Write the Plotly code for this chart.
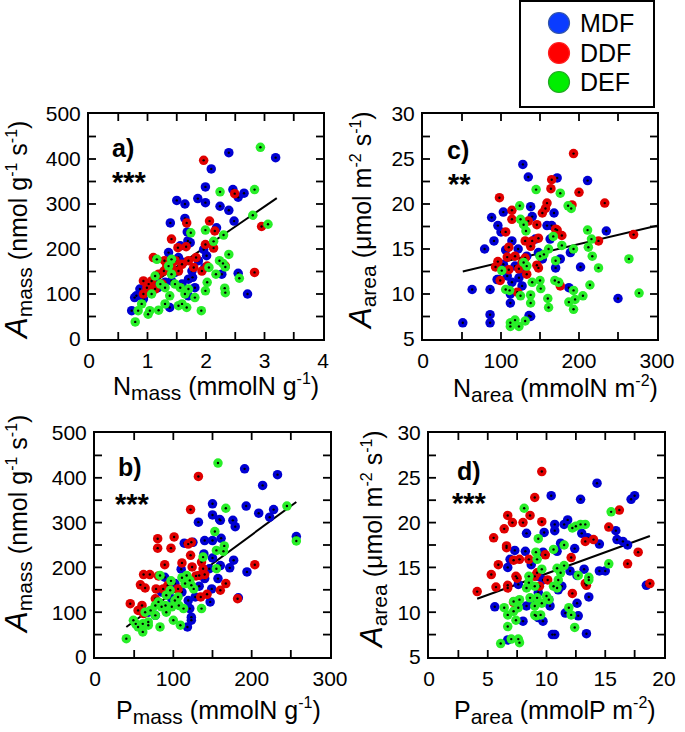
import plotly.graph_objects as go

# ---------------- data ----------------
# Panel a: Nmass (mmolN g-1) vs Amass (nmol g-1 s-1)
a_mdf_x = [2.39, 3.19, 2.09, 1.99, 2.46, 2.65, 2.55, 1.86, 1.50, 1.64, 1.99, 2.24, 2.39, 1.39, 2.48, 1.64, 1.68, 1.69, 1.36, 1.96,
           2.01, 1.53, 2.27, 2.55, 1.77, 1.70, 1.59, 1.41, 1.30, 1.18, 1.07, 0.99, 0.87, 0.81, 0.78, 0.73, 2.71, 1.38, 1.70, 1.81,
           1.47, 1.87, 1.13, 0.93, 1.61, 1.98, 1.76, 1.56, 1.73, 2.18]
a_mdf_y = [414, 403, 378, 338, 332, 324, 315, 312, 308, 300, 303, 295, 286, 258, 262, 268, 238, 218, 192, 199,
           185, 181, 144, 146, 137, 133, 122, 129, 126, 114, 122, 114, 111, 96, 92, 63, 100, 70, 96, 114,
           148, 174, 129, 89, 170, 159, 151, 207, 214, 247]
a_ddf_x = [1.96, 2.49, 2.95, 2.83, 1.67, 2.06, 2.15, 2.13, 1.41, 1.52, 1.66, 1.10, 1.29, 1.59, 1.83, 1.79, 2.02, 1.41, 1.19, 1.02,
           0.93, 0.99, 1.28, 1.53, 1.70, 2.33, 1.13, 0.93, 1.47, 1.93, 1.33, 1.07, 1.25, 1.99]
a_ddf_y = [397, 323, 250, 148, 258, 262, 240, 202, 222, 203, 205, 181, 174, 166, 181, 159, 162, 159, 144, 122,
           100, 114, 151, 151, 174, 162, 111, 129, 174, 151, 162, 129, 122, 210]
a_def_x = [2.93, 2.24, 2.83, 2.80, 3.06, 1.99, 2.30, 2.13, 1.74, 2.39, 2.23, 2.29, 2.33, 2.05, 2.17, 2.02, 1.99, 2.57, 2.32, 2.33,
           1.16, 1.41, 1.36, 1.22, 1.07, 1.30, 1.38, 1.47, 1.70, 1.81, 1.64, 0.90, 0.84, 1.04, 1.01, 1.19, 1.30, 1.53, 1.67, 1.59,
           1.92, 0.79, 1.41, 1.56, 1.13]
a_def_y = [426, 327, 332, 275, 255, 242, 231, 217, 236, 188, 174, 168, 160, 159, 144, 126, 107, 135, 113, 103,
           177, 177, 162, 122, 100, 114, 96, 122, 111, 92, 100, 78, 63, 63, 55, 64, 78, 74, 70, 78,
           63, 38, 144, 114, 140]
a_fit_x = [0.75, 3.21]
a_fit_y = [94, 313]

# Panel c: Narea (mmolN m-2) vs Aarea (umol m-2 s-1)
c_mdf_x = [51, 63, 86, 86, 86, 79, 91, 88, 96, 103, 100, 103, 97, 108, 112, 112, 114, 122, 128, 135,
           138, 140, 148, 133, 136, 138, 168, 159, 163, 172, 176, 170, 189, 187, 202, 211, 235, 250, 127, 123,
           114, 144, 118, 153, 106, 95, 127, 165]
c_mdf_y = [6.8, 10.5, 7.7, 6.8, 10.5, 15.0, 15.9, 18.5, 17.6, 19.1, 16.9, 13.3, 11.6, 12.0, 9.0, 10.0, 15.9, 15.0, 24.4, 23.0,
           19.7, 18.6, 14.6, 14.2, 7.6, 7.5, 19.0, 17.6, 16.1, 22.9, 13.9, 12.9, 14.6, 10.7, 13.0, 22.6, 17.0, 9.5, 12.7, 11.8,
           11.3, 16.1, 13.1, 13.9, 14.9, 11.6, 10.9, 17.6]
c_ddf_x = [193, 98, 165, 164, 200, 191, 233, 270, 225, 159, 157, 153, 114, 114, 106, 135, 146, 172, 178, 148,
           140, 131, 110, 96, 108, 118, 127, 93, 110, 123, 146, 148, 99, 133, 176, 121, 131, 170, 138]
c_ddf_y = [25.6, 20.7, 22.7, 21.7, 21.3, 19.9, 20.1, 16.6, 15.9, 20.1, 19.5, 19.0, 19.3, 18.3, 16.9, 18.1, 17.7, 17.1, 16.5, 16.2,
           15.9, 15.9, 15.2, 13.6, 14.1, 14.2, 13.5, 13.0, 12.7, 12.8, 13.2, 12.9, 11.5, 12.2, 10.9, 10.2, 14.0, 17.2, 15.3]
c_def_x = [145, 176, 186, 190, 124, 125, 129, 132, 211, 216, 212, 217, 193, 178, 264, 277, 225, 214, 167, 161,
           150, 155, 170, 101, 129, 133, 140, 150, 151, 169, 174, 193, 195, 205, 187, 193, 160, 161, 138, 138,
           125, 106, 111, 112, 118, 123, 131, 112]
c_def_y = [21.6, 21.2, 19.8, 19.5, 19.8, 18.3, 17.7, 17.0, 17.1, 16.1, 15.2, 14.2, 15.0, 15.4, 13.9, 10.1, 12.9, 11.0, 16.4, 15.0,
           14.2, 14.4, 13.7, 12.6, 13.5, 13.1, 11.3, 11.5, 10.6, 11.5, 11.3, 10.4, 9.4, 9.8, 9.1, 8.3, 9.5, 8.5, 9.9, 9.0,
           9.8, 10.5, 10.4, 6.8, 7.1, 6.4, 7.0, 6.4]
c_fit_x = [51, 300]
c_fit_y = [12.5, 17.6]

# Panel b: Pmass vs Amass
b_mdf_x = [191, 233, 214, 150, 193, 209, 228, 223, 150, 159, 160, 132, 176, 179, 161, 150, 140, 114, 125, 257,
           139, 150, 177, 172, 194, 146, 160, 110, 102, 89, 140, 157, 149, 133, 147, 128, 121, 123, 118, 123,
           119, 183, 111, 85, 77, 68, 98]
b_mdf_y = [420, 407, 383, 342, 337, 321, 329, 312, 317, 307, 305, 301, 305, 291, 265, 260, 260, 254, 256, 269,
           230, 221, 216, 199, 190, 197, 204, 196, 164, 178, 175, 175, 152, 158, 123, 134, 108, 89, 67, 82,
           126, 132, 145, 145, 93, 100, 130]
b_ddf_x = [132, 122, 101, 80, 80, 97, 119, 123, 122, 111, 89, 124, 136, 62, 70, 81, 58, 64, 78, 87,
           93, 129, 140, 133, 167, 160, 143, 135, 204, 182, 45, 55, 62, 60, 77, 115, 106, 138]
b_ddf_y = [403, 329, 268, 264, 243, 243, 252, 256, 227, 210, 206, 201, 212, 184, 184, 181, 161, 154, 152, 152,
           160, 181, 184, 182, 164, 149, 140, 134, 206, 130, 119, 104, 97, 115, 130, 171, 152, 197]
b_def_x = [157, 167, 245, 257, 153, 155, 165, 164, 138, 155, 136, 83, 97, 96, 111, 117, 121, 123, 126, 115,
           91, 106, 102, 90, 85, 98, 107, 113, 77, 71, 64, 77, 68, 61, 52, 49, 55, 61, 68, 83,
           100, 109, 40, 91, 81]
b_def_y = [433, 332, 337, 259, 280, 238, 248, 236, 223, 197, 108, 182, 170, 149, 177, 182, 171, 160, 152, 164,
           138, 134, 126, 115, 112, 112, 115, 108, 115, 104, 100, 93, 78, 74, 74, 82, 67, 56, 71, 67,
           82, 71, 41, 100, 123]
b_fit_x = [40, 257]
b_fit_y = [67, 346]

# Panel d: Parea (mmolP m-2) vs Aarea
d_mdf_x = [14.3, 17.2, 17.5, 12.9, 10.4, 8.3, 9.8, 10.7, 10.7, 11.5, 11.8, 13.0, 13.5, 15.9, 16.0, 16.5, 16.9, 14.5, 12.4, 11.2,
           10.9, 9.7, 7.3, 8.2, 6.7, 6.9, 14.5, 15.0, 13.2, 12.6, 12.0, 11.3, 9.7, 9.3, 8.7, 8.3, 8.0, 9.3, 9.7, 10.3,
           10.2, 12.6, 13.6, 11.6, 12.7, 5.6, 6.7, 10.5, 10.7, 13.4, 18.5, 7.6, 11.0, 8.7, 9.3]
d_mdf_y = [24.4, 22.6, 23.0, 22.6, 23.0, 18.8, 18.9, 19.8, 19.1, 19.8, 20.3, 18.8, 18.3, 19.1, 18.1, 17.9, 17.5, 17.6, 17.1, 17.7,
           16.8, 16.7, 16.9, 16.8, 15.0, 15.9, 14.6, 14.6, 14.8, 14.1, 14.6, 12.9, 13.6, 12.2, 11.4, 10.7, 9.0, 9.4, 9.0, 10.7,
           11.4, 11.0, 11.7, 9.9, 9.6, 10.6, 6.9, 7.5, 7.5, 7.6, 13.0, 13.1, 12.5, 15.3, 14.0]
d_ddf_x = [9.6, 9.0, 6.7, 7.1, 6.4, 8.0, 8.6, 9.6, 5.5, 16.2, 15.3, 13.3, 14.0, 17.8, 16.9, 18.8, 6.6, 6.6, 9.9, 7.2,
           7.7, 8.5, 5.9, 5.3, 7.4, 7.5, 6.7, 6.7, 5.7, 4.1, 12.1, 13.3, 13.4, 12.2, 9.4, 9.0, 10.1, 7.2, 9.2]
d_ddf_y = [25.7, 22.8, 20.8, 20.0, 19.3, 20.0, 20.8, 20.1, 18.3, 21.4, 19.5, 17.9, 18.1, 16.7, 15.4, 13.2, 17.2, 17.4, 16.4, 15.8,
           15.9, 15.9, 15.3, 14.2, 14.0, 13.8, 13.0, 12.7, 12.8, 12.3, 16.1, 13.2, 13.0, 12.1, 12.9, 14.0, 13.6, 11.1, 14.4]
d_def_x = [8.1, 15.5, 12.5, 12.9, 13.3, 12.2, 9.3, 15.3, 10.6, 11.5, 9.1, 9.2, 9.6, 10.9, 11.5, 12.7, 13.6, 13.6, 11.2, 11.0,
           10.9, 10.6, 8.5, 8.5, 8.3, 9.0, 9.2, 9.6, 8.6, 10.2, 7.7, 7.6, 7.2, 6.4, 6.7, 7.4, 6.7, 9.0, 9.0, 9.5,
           9.1, 11.9, 12.1, 12.4, 6.1, 7.0, 7.6, 7.7, 7.2, 10.0]
d_def_y = [21.6, 21.2, 19.6, 19.8, 19.8, 19.4, 18.2, 15.4, 17.0, 17.5, 16.7, 15.9, 14.8, 14.9, 15.2, 14.1, 13.9, 13.6, 14.4, 13.6,
           12.7, 12.9, 14.0, 13.3, 12.7, 12.9, 11.6, 11.0, 11.6, 11.4, 11.4, 10.5, 10.1, 10.5, 9.7, 9.1, 8.4, 10.7, 9.7, 9.7,
           9.6, 10.5, 9.7, 8.3, 6.5, 7.0, 7.0, 6.6, 11.2, 11.8]
d_fit_x = [4.1, 18.8]
d_fit_y = [11.5, 18.5]

groups = ["MDF", "DDF", "DEF"]
colors = {"MDF": "#0000d2", "DDF": "#e00000", "DEF": "#28ee28"}
legend_colors = {"MDF": "#0a3cff", "DDF": "#ff0000", "DEF": "#00ee00"}
legend_edges = {"MDF": "#3355aa", "DDF": "#ff2020", "DEF": "#22aa22"}

W, H = 685, 732
def px(v):
    return v / W
def py(v):
    return 1 - v / H

# pixel boxes of the four frames: (left, right, top, bottom)
boxes = {"a": (89, 323, 114, 339), "c": (423, 657, 114, 339), "b": (95, 330, 433, 657), "d": (429, 664, 433, 657)}

panels = [
    dict(key="a", xa="x", ya="y", data={"MDF": (a_mdf_x, a_mdf_y), "DDF": (a_ddf_x, a_ddf_y), "DEF": (a_def_x, a_def_y)},
         fit=(a_fit_x, a_fit_y), xr=(0, 4, 0.5), yr=(0, 500, 50)),
    dict(key="c", xa="x2", ya="y2", data={"MDF": (c_mdf_x, c_mdf_y), "DDF": (c_ddf_x, c_ddf_y), "DEF": (c_def_x, c_def_y)},
         fit=(c_fit_x, c_fit_y), xr=(0, 300, 50), yr=(5, 30, 2.5)),
    dict(key="b", xa="x3", ya="y3", data={"MDF": (b_mdf_x, b_mdf_y), "DDF": (b_ddf_x, b_ddf_y), "DEF": (b_def_x, b_def_y)},
         fit=(b_fit_x, b_fit_y), xr=(0, 300, 50), yr=(0, 500, 50)),
    dict(key="d", xa="x4", ya="y4", data={"MDF": (d_mdf_x, d_mdf_y), "DDF": (d_ddf_x, d_ddf_y), "DEF": (d_def_x, d_def_y)},
         fit=(d_fit_x, d_fit_y), xr=(0, 20, 2.5), yr=(5, 30, 2.5)),
]

TL = 7  # tick length, px
fig = go.Figure()
for p in panels:
    l, r, t, b = boxes[p["key"]]
    x0, x1, xs = p["xr"]
    y0, y1, ys = p["yr"]
    dx = TL * (x1 - x0) / (r - l)
    dy = TL * (y1 - y0) / (b - t)
    tx, ty = [], []
    n = int(round((x1 - x0) / xs))
    for i in range(1, n):
        v = x0 + i * xs
        tx += [v, v, None, v, v, None]
        ty += [y0, y0 + dy, None, y1, y1 - dy, None]
    n = int(round((y1 - y0) / ys))
    for i in range(1, n):
        v = y0 + i * ys
        tx += [x0, x0 + dx, None, x1, x1 - dx, None]
        ty += [v, v, None, v, v, None]
    fig.add_trace(go.Scatter(x=tx, y=ty, mode="lines", xaxis=p["xa"], yaxis=p["ya"],
                             line=dict(color="black", width=1.8), showlegend=False, hoverinfo="skip"))
    fig.add_trace(go.Scatter(x=p["fit"][0], y=p["fit"][1], mode="lines", xaxis=p["xa"], yaxis=p["ya"],
                             line=dict(color="black", width=2), showlegend=False, hoverinfo="skip"))
    for g in groups:
        xs_, ys_ = p["data"][g]
        fig.add_trace(go.Scatter(x=xs_, y=ys_, mode="markers", xaxis=p["xa"], yaxis=p["ya"], name=g,
                                 marker=dict(size=9.5, color=colors[g], line=dict(width=0)), showlegend=False))
        fig.add_trace(go.Scatter(x=xs_, y=ys_, mode="markers", xaxis=p["xa"], yaxis=p["ya"],
                                 marker=dict(size=2.4, color="black", line=dict(width=0)), showlegend=False,
                                 hoverinfo="skip"))

FONT = "Liberation Sans, Arial, Helvetica, sans-serif"
tickfont = dict(family=FONT, size=21, color="black")

def axis(domain, rng, dtick, anchor, tick0=0):
    return dict(domain=domain, range=rng, dtick=dtick, tick0=tick0, ticks="", showline=True,
                linecolor="black", linewidth=2, mirror=True, showgrid=False, zeroline=False,
                tickfont=tickfont, anchor=anchor, automargin=False, ticklabelstandoff=2)

def xdom(k):
    return [px(boxes[k][0]), px(boxes[k][1])]
def ydom(k):
    return [py(boxes[k][3]), py(boxes[k][2])]

fig.update_layout(
    xaxis=axis(xdom("a"), [0, 4], 1, "y"),
    yaxis=axis(ydom("a"), [0, 500], 100, "x"),
    xaxis2=axis(xdom("c"), [0, 300], 100, "y2"),
    yaxis2=axis(ydom("c"), [5, 30], 5, "x2", tick0=5),
    xaxis3=axis(xdom("b"), [0, 300], 100, "y3"),
    yaxis3=axis(ydom("b"), [0, 500], 100, "x3"),
    xaxis4=axis(xdom("d"), [0, 20], 5, "y4"),
    yaxis4=axis(ydom("d"), [5, 30], 5, "x4", tick0=5),
)

annotations = []
shapes = []
title_font = dict(family=FONT, size=25, color="black")
SUB = '<sub><span style="font-size:21px">%s</span></sub>'
SUP = '<sup><span style="font-size:16px">%s</span></sup>'
BIGA = '<span style="font-size:31px"><i>A</i></span>'
amass = BIGA + SUB % "mass" + " (nmol g" + SUP % "-1" + " s" + SUP % "-1" + ")"
aarea = BIGA + SUB % "area" + " (\u03bcmol m" + SUP % "-2" + " s" + SUP % "-1" + ")"
# axis titles (x)
for text, cx, cy in [("N" + SUB % "mass" + " (mmolN g" + SUP % "-1" + ")", 216, 387),
                     ("N" + SUB % "area" + " (mmolN m" + SUP % "-2" + ")", 555, 389),
                     ("P" + SUB % "mass" + " (mmolN g" + SUP % "-1" + ")", 218, 711),
                     ("P" + SUB % "area" + " (mmolP m" + SUP % "-2" + ")", 555, 711)]:
    annotations.append(dict(text=text, x=px(cx), y=py(cy), xref="paper", yref="paper", showarrow=False,
                            xanchor="center", yanchor="middle", font=title_font))
# axis titles (y)
for text, cx, cy in [(amass, 17, 231), (aarea, 362, 221), (amass, 17, 525), (aarea, 372, 540)]:
    annotations.append(dict(text=text, x=px(cx), y=py(cy), xref="paper", yref="paper", showarrow=False,
                            xanchor="center", yanchor="middle", textangle=-90, font=title_font))
# panel labels and significance
lab_font = dict(family=FONT, size=25, color="black")
for text, lx, ly in [("<b>a)</b>", 110, 148), ("<b>c)</b>", 445, 150), ("<b>b)</b>", 116, 467), ("<b>d)</b>", 455, 471)]:
    annotations.append(dict(text=text, x=px(lx), y=py(ly), xref="paper", yref="paper", showarrow=False,
                            xanchor="left", yanchor="middle", font=lab_font))
for text, lx, ly in [("<b>***</b>", 110, 182), ("<b>**</b>", 446, 184), ("<b>***</b>", 113, 504), ("<b>***</b>", 450, 503)]:
    annotations.append(dict(text=text, x=px(lx), y=py(ly), xref="paper", yref="paper", showarrow=False,
                            xanchor="left", yanchor="middle", font=dict(family=FONT, size=29, color="black")))

# legend box (drawn manually)
shapes.append(dict(type="rect", xref="paper", yref="paper", x0=px(520), x1=px(654), y0=py(107), y1=py(1),
                   line=dict(color="black", width=2), fillcolor="white", layer="above"))
for g, cy in zip(groups, [23, 53, 82]):
    rr = 10.5
    shapes.append(dict(type="circle", xref="paper", yref="paper", x0=px(559 - rr), x1=px(559 + rr),
                       y0=py(cy + rr), y1=py(cy - rr), fillcolor=legend_colors[g],
                       line=dict(color=legend_edges[g], width=1.2), layer="above"))
    annotations.append(dict(text=g, x=px(578), y=py(cy), xref="paper", yref="paper", showarrow=False,
                            xanchor="left", yanchor="middle", font=dict(family=FONT, size=25, color="black")))

fig.update_layout(width=W, height=H, margin=dict(l=0, r=0, t=0, b=0), paper_bgcolor="white",
                  plot_bgcolor="white", showlegend=False, annotations=annotations, shapes=shapes)

fig.write_html("out.html", config={"displayModeBar": False},
               post_script="document.body.style.margin='0px';document.body.style.overflow='hidden';")
